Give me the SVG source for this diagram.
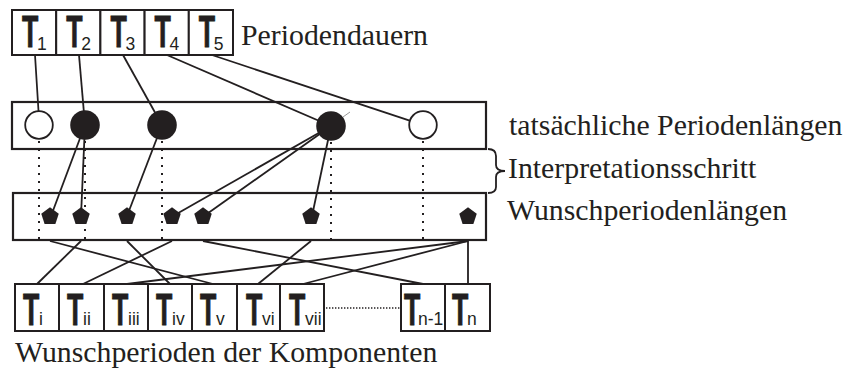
<svg xmlns="http://www.w3.org/2000/svg" width="847" height="373" viewBox="0 0 847 373">
<defs>
<style>
.box{fill:#fff;stroke:#231f20;stroke-width:2}
.band{fill:#fff;stroke:#231f20;stroke-width:2.2}
.ln{stroke:#231f20;stroke-width:1.8;fill:none}
.dot{stroke:#231f20;stroke-width:2;stroke-dasharray:2 6;fill:none}
.hdot{stroke:#231f20;stroke-width:1.4;stroke-dasharray:1.4 1.6;fill:none}
.open{fill:#fff;stroke:#231f20;stroke-width:1.8}
.full{fill:#231f20}
.T{font-weight:bold;font-size:44.5px;stroke:#231f20;stroke-width:0.9}
.s{font-size:17.5px}
</style>
<polygon id="pent" points="0,-9.2 8.75,-2.84 5.4,7.44 -5.4,7.44 -8.75,-2.84" fill="#231f20"/>
</defs>
<rect width="847" height="373" fill="#fff"/>

<g id="band-actual"><rect class="band" x="12" y="102" width="474" height="47"/></g>
<g id="band-wish"><rect class="band" x="13" y="193" width="473" height="47"/></g>

<g id="dotted">
<line class="dot" x1="39" y1="141" x2="39" y2="240"/>
<line class="dot" x1="85" y1="141" x2="85" y2="240"/>
<line class="dot" x1="162" y1="141" x2="162" y2="240"/>
<line class="dot" x1="331" y1="142" x2="331" y2="240"/>
<line class="dot" x1="423" y1="141" x2="423" y2="240"/>
<line class="hdot" x1="326" y1="308" x2="400" y2="308"/>
</g>

<g id="connectors">
<line class="ln" x1="35" y1="55" x2="38.5" y2="111"/>
<line class="ln" x1="79" y1="55" x2="85" y2="125"/>
<line class="ln" x1="123" y1="55" x2="162" y2="125"/>
<line class="ln" x1="167" y1="55" x2="331" y2="126"/>
<line class="ln" x1="212" y1="55" x2="409.7" y2="120.6"/>
<line class="ln" x1="85" y1="125" x2="51" y2="216"/>
<line class="ln" x1="85" y1="125" x2="81" y2="216"/>
<line class="ln" x1="162" y1="125" x2="127" y2="216"/>
<line class="ln" x1="331" y1="126" x2="173" y2="216"/>
<line class="ln" x1="331" y1="126" x2="204" y2="216"/>
<line class="ln" x1="331" y1="126" x2="312" y2="216"/>
<line x1="343" y1="117" x2="350" y2="112" stroke="#999" stroke-width="1"/>
<line class="ln" x1="50" y1="241" x2="213" y2="284"/>
<line class="ln" x1="81" y1="241" x2="37" y2="284"/>
<line class="ln" x1="127" y1="241" x2="170" y2="284"/>
<line class="ln" x1="172" y1="241" x2="83" y2="284"/>
<line class="ln" x1="203" y1="241" x2="423" y2="284"/>
<line class="ln" x1="311" y1="241" x2="258" y2="284"/>
<line class="ln" x1="468" y1="241" x2="127" y2="284"/>
<line class="ln" x1="468" y1="241" x2="303" y2="284"/>
<line class="ln" x1="468" y1="241" x2="468" y2="284"/>
</g>

<g id="actual-lengths">
<circle id="c1" class="open" cx="39" cy="125" r="13.8"/>
<circle id="c2" class="full" cx="85" cy="125" r="14.8"/>
<circle id="c3" class="full" cx="162" cy="125" r="14.8"/>
<circle id="c4" class="full" cx="331" cy="126" r="14.8"/>
<circle id="c5" class="open" cx="423" cy="125" r="13.8"/>
</g>

<g id="wish-lengths">
<use href="#pent" x="50" y="216.5"/>
<use href="#pent" x="81" y="216.5"/>
<use href="#pent" x="127" y="216.5"/>
<use href="#pent" x="172" y="216.5"/>
<use href="#pent" x="203" y="216.5"/>
<use href="#pent" x="311" y="216.5"/>
<use href="#pent" x="468" y="216.5"/>
</g>

<g id="period-boxes" font-family="Liberation Sans, Arial, sans-serif" fill="#231f20">
<g id="T1"><rect class="box" x="12" y="10" width="44.2" height="45"/><text class="T" transform="translate(22,47) scale(0.6,1)">T</text><text class="s" x="37" y="50">1</text></g>
<g id="T2"><rect class="box" x="56.2" y="10" width="44.2" height="45"/><text class="T" transform="translate(66.2,47) scale(0.6,1)">T</text><text class="s" x="81.2" y="50">2</text></g>
<g id="T3"><rect class="box" x="100.4" y="10" width="44.2" height="45"/><text class="T" transform="translate(110.4,47) scale(0.6,1)">T</text><text class="s" x="125.4" y="50">3</text></g>
<g id="T4"><rect class="box" x="144.6" y="10" width="44.2" height="45"/><text class="T" transform="translate(154.6,47) scale(0.6,1)">T</text><text class="s" x="169.6" y="50">4</text></g>
<g id="T5"><rect class="box" x="188.8" y="10" width="44.2" height="45"/><text class="T" transform="translate(198.8,47) scale(0.6,1)">T</text><text class="s" x="213.8" y="50">5</text></g>
</g>

<g id="component-boxes" font-family="Liberation Sans, Arial, sans-serif" fill="#231f20">
<g id="Ti"><rect class="box" x="15" y="284" width="44" height="47"/><text class="T" transform="translate(23,325) scale(0.6,1)">T</text><text class="s" x="39" y="325">i</text></g>
<g id="Tii"><rect class="box" x="59" y="284" width="45" height="47"/><text class="T" transform="translate(67,325) scale(0.6,1)">T</text><text class="s" x="83" y="325">ii</text></g>
<g id="Tiii"><rect class="box" x="104" y="284" width="44" height="47"/><text class="T" transform="translate(112,325) scale(0.6,1)">T</text><text class="s" x="128" y="325">iii</text></g>
<g id="Tiv"><rect class="box" x="148" y="284" width="44" height="47"/><text class="T" transform="translate(156,325) scale(0.6,1)">T</text><text class="s" x="172" y="325">iv</text></g>
<g id="Tv"><rect class="box" x="192" y="284" width="45" height="47"/><text class="T" transform="translate(200,325) scale(0.6,1)">T</text><text class="s" x="216" y="325">v</text></g>
<g id="Tvi"><rect class="box" x="237" y="284" width="43" height="47"/><text class="T" transform="translate(246,325) scale(0.6,1)">T</text><text class="s" x="262" y="325">vi</text></g>
<g id="Tvii"><rect class="box" x="280" y="284" width="44" height="47"/><text class="T" transform="translate(289,325) scale(0.6,1)">T</text><text class="s" x="305" y="325">vii</text></g>
<g id="Tn-1"><rect class="box" x="401" y="284" width="44" height="47"/><text class="T" transform="translate(404,325) scale(0.6,1)">T</text><text class="s" x="418" y="325">n-1</text></g>
<g id="Tn"><rect class="box" x="445" y="284" width="45" height="47"/><text class="T" transform="translate(452,325) scale(0.6,1)">T</text><text class="s" x="467" y="325">n</text></g>
</g>

<g id="labels" font-family="Liberation Serif, Times New Roman, serif" font-size="29.8" fill="#231f20">
<text x="241" y="45">Periodendauern</text>
<text x="509" y="135">tatsächliche Periodenlängen</text>
<path class="ln" d="M488,149 Q496,149 496,156 L496,165 Q496,171 505,171 Q496,171 496,177 L496,187 Q496,193 488,193"/>
<text x="508" y="178">Interpretationsschritt</text>
<text x="507" y="220">Wunschperiodenlängen</text>
<text x="15" y="362">Wunschperioden der Komponenten</text>
</g>
</svg>
